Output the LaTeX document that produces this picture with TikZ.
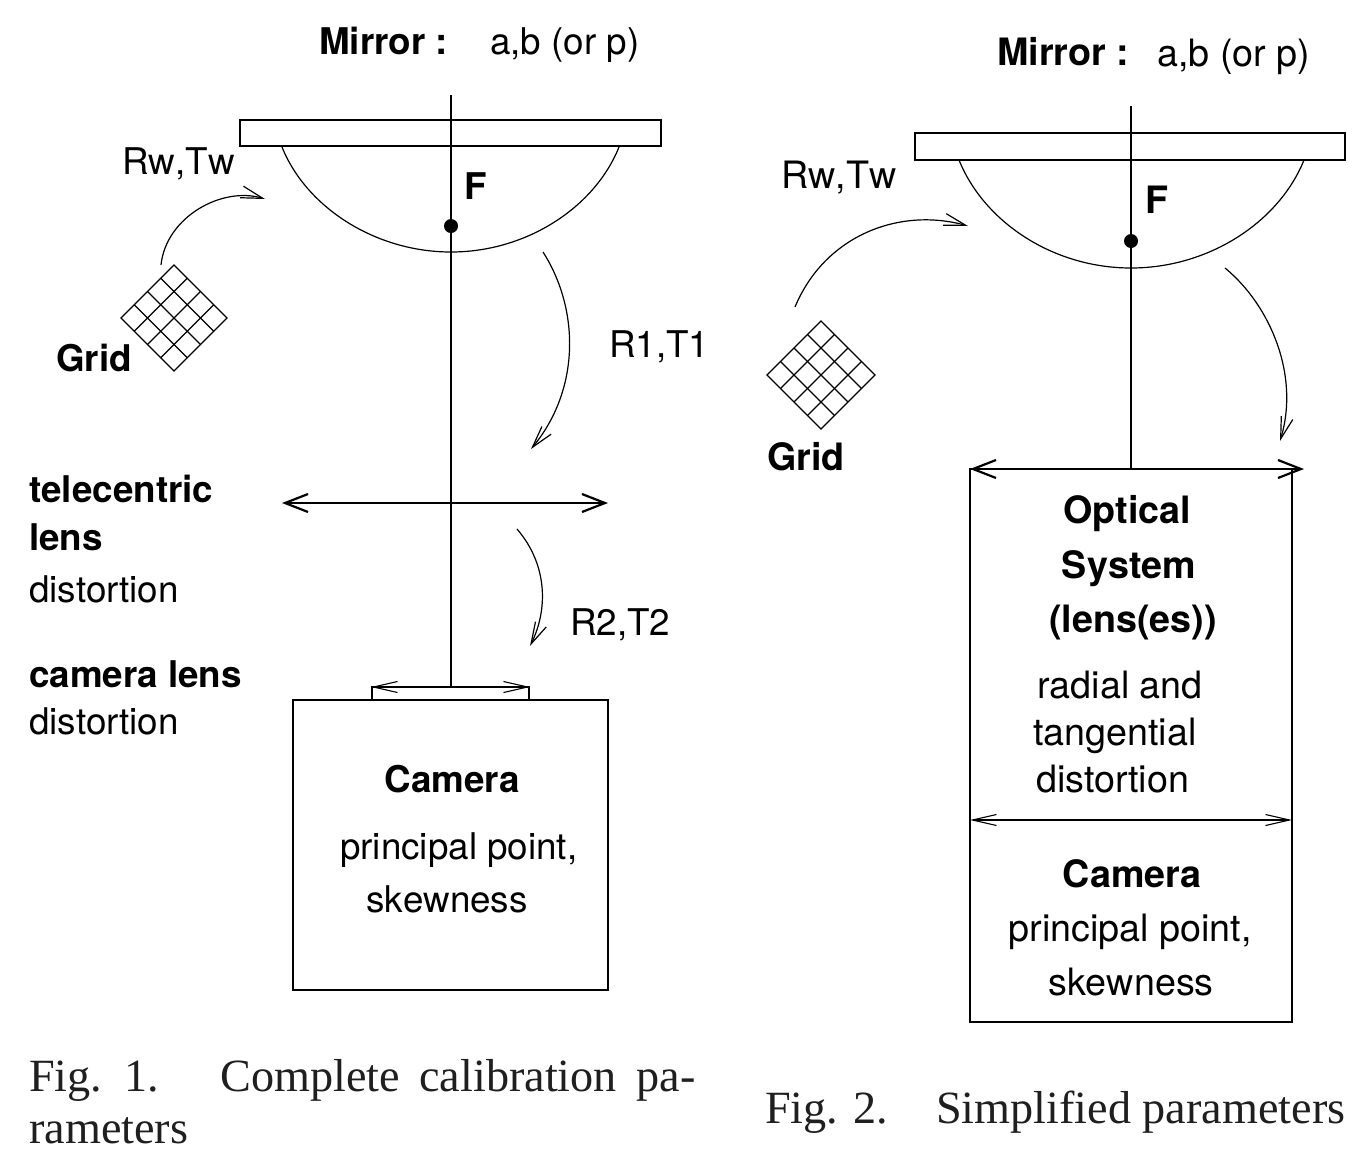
\documentclass[tikz,border=0pt]{standalone}
\usepackage{fontspec}
\setmainfont[Kerning=Off]{TeX Gyre Heros}
\newfontfamily\capfont{Liberation Serif}
\usetikzlibrary{arrows.meta,calc}
\definecolor{capcol}{gray}{0.12}
\tikzset{
  txt/.style={inner sep=0pt,anchor=base west,yshift=-0.7pt,font=\fontsize{36.8}{40}\selectfont},
  txtc/.style={inner sep=0pt,anchor=base,yshift=-0.7pt,font=\fontsize{36.8}{40}\selectfont},
  btxt/.style={txt,font=\fontsize{36.8}{40}\selectfont\bfseries},
  btxtc/.style={txtc,font=\fontsize{36.8}{40}\selectfont\bfseries},
  rtxt/.style={txt,font=\fontsize{37.7}{41}\selectfont},
  rtxtc/.style={txtc,font=\fontsize{37.7}{41}\selectfont},
  rbtxt/.style={txt,font=\fontsize{37.7}{41}\selectfont\bfseries},
  rbtxtc/.style={txtc,font=\fontsize{37.7}{41}\selectfont\bfseries},
  captxt/.style={inner sep=0pt,anchor=base west,text=capcol,yshift=-0.5pt,font=\fontsize{46.2}{50}\selectfont\capfont},
  ln/.style={line width=1.2pt,black},
  bigarr/.style={line width=1.6pt,{Straight Barb[length=23pt,width=18pt,line width=2.2pt]}-{Straight Barb[length=23pt,width=18pt,line width=2.2pt]}},
  thinarr/.style={line width=1.2pt,{Straight Barb[length=24pt,width=11pt,line width=1.1pt]}-{Straight Barb[length=24pt,width=11pt,line width=1.1pt]}},
  curvearr/.style={line width=1.2pt,-{Straight Barb[length=22pt,width=12pt,line width=1.2pt]}},
  dotf/.style={circle,fill=black,inner sep=0pt,minimum size=14pt}
}
\newcommand{\gridcells}[4]{%
  \draw[ln] (#1)--(#2)--(#3)--(#4)--cycle;
  \foreach \k in {0.25,0.5,0.75}{
    \draw[ln] ($(#1)!\k!(#2)$)--($(#4)!\k!(#3)$);
    \draw[ln] ($(#1)!\k!(#4)$)--($(#2)!\k!(#3)$);
  }}
\begin{document}
\begin{tikzpicture}[x=1pt,y=-1pt]
\fill[white] (0,0) rectangle (1364,1168);
\useasboundingbox (0,0) rectangle (1364,1168);
% ---- Figure 1
\coordinate (lTop) at (451,95);
\coordinate (lBot) at (451,687);
\coordinate (lBowlL) at (282,147);
\coordinate (lBowlM) at (451,252);
\coordinate (lBowlR) at (619,147);
\node[draw,ln,minimum width=421pt,minimum height=26pt,inner sep=0pt] (lMirror) at (450.5,133) {};
\draw[ln] (lBowlL) .. controls (306,207) and (375,252) .. (lBowlM) .. controls (527,252) and (595,207) .. (lBowlR);
\draw[ln] (lTop)--(lBot);
\node[dotf] (lF) at (451,226) {};
\coordinate (lgT) at (174,265); \coordinate (lgR) at (227,318);
\coordinate (lgB) at (174,371); \coordinate (lgL) at (121,318);
\gridcells{lgT}{lgR}{lgB}{lgL}
\coordinate (a1s) at (161,265); \coordinate (a1e) at (265,199);
\draw[curvearr] (a1s) .. controls (166,217) and (222,186) .. (a1e);
\coordinate (a2s) at (543,252); \coordinate (a2e) at (531,449);
\draw[curvearr] (a2s) .. controls (580,310) and (580,390) .. (a2e);
\coordinate (a3s) at (517,529); \coordinate (a3e) at (530,646);
\draw[curvearr] (a3s) .. controls (548,565) and (548,610) .. (a3e);
\coordinate (llL) at (282,503); \coordinate (llR) at (608,503);
\draw[bigarr] (llL)--(llR);
\node[draw,ln,minimum width=157pt,minimum height=13pt,inner sep=0pt] (lCamLens) at (450.5,693.5) {};
\coordinate (clL) at (371,687); \coordinate (clR) at (530,687);
\draw[thinarr] (clL)--(clR);
\node[draw,ln,minimum width=315pt,minimum height=290pt,inner sep=0pt] (lCam) at (450.5,845) {};
\node[btxt] (t1) at (319,54) {Mirror :};
\node[txt] (t2) at (490,54) {a,b (or p)};
\node[txt] (t3) at (122,174) {Rw,Tw};
\node[btxt] (t4) at (464,199) {F};
\node[btxt] (t5) at (56,371) {Grid};
\node[txt] (t6) at (609,357) {R1,T1};
\node[txt] (t7) at (570,635) {R2,T2};
\node[btxt] (t8) at (29,502) {telecentric};
\node[btxt] (t9) at (29,550) {lens};
\node[txt] (t10) at (29,602) {distortion};
\node[btxt] (t11) at (29,687) {camera lens};
\node[txt] (t12) at (29,734) {distortion};
\node[btxtc] (t13) at (452,792) {Camera};
\node[txt] (t14) at (340,859) {principal point,};
\node[txt] (t15) at (366,912) {skewness};
% ---- Figure 2
\coordinate (rTop) at (1131,106);
\coordinate (rBot) at (1131,469);
\coordinate (rBowlL) at (959,160);
\coordinate (rBowlM) at (1131,268);
\coordinate (rBowlR) at (1304,160);
\node[draw,ln,minimum width=430pt,minimum height=27pt,inner sep=0pt] (rMirror) at (1130,146.5) {};
\draw[ln] (rBowlL) .. controls (984,222) and (1053,268) .. (rBowlM) .. controls (1209,268) and (1279,222) .. (rBowlR);
\draw[ln] (rTop)--(rBot);
\node[dotf] (rF) at (1131,241) {};
\coordinate (rgT) at (821,321); \coordinate (rgR) at (875,375);
\coordinate (rgB) at (821,429); \coordinate (rgL) at (767,375);
\gridcells{rgT}{rgR}{rgB}{rgL}
\coordinate (b1s) at (795,307); \coordinate (b1e) at (968,226);
\draw[curvearr] (b1s) .. controls (825,235) and (900,207) .. (b1e);
\coordinate (b2s) at (1225,268); \coordinate (b2e) at (1280,441);
\draw[curvearr] (b2s) .. controls (1270,305) and (1300,375) .. (b2e);
\node[draw,ln,minimum width=322pt,minimum height=553pt,inner sep=0pt] (rBox) at (1131,745.5) {};
\coordinate (osL) at (970,469); \coordinate (osR) at (1304,469);
\draw[bigarr] (osL)--(osR);
\coordinate (dvL) at (970,820); \coordinate (dvR) at (1292,820);
\draw[thinarr] (dvL)--(dvR);
\node[rbtxt] (u1) at (997,65) {Mirror :};
\node[rtxt] (u2) at (1157,66) {a,b (or p)};
\node[rtxt] (u3) at (781,188) {Rw,Tw};
\node[rbtxt] (u4) at (1145,213) {F};
\node[rbtxt] (u5) at (767,470) {Grid};
\node[rbtxtc] (u6) at (1127,523) {Optical};
\node[rbtxtc] (u7) at (1129,578) {System};
\node[rbtxtc] (u8) at (1133,632) {(lens(es))};
\node[rtxt] (u9) at (1037,698) {radial and};
\node[rtxt] (u10) at (1033,745) {tangential};
\node[rtxt] (u11) at (1036,792) {distortion};
\node[rbtxtc] (u12) at (1132,887) {Camera};
\node[rtxtc] (u13) at (1130,941) {principal point,};
\node[rtxtc] (u14) at (1131,995) {skewness};
% ---- Captions
\node[captxt] (c1) at (29,1091) {Fig.\hspace{7pt} 1.};
\node[captxt] (c2) at (220,1091) {Complete\hspace{8pt} calibration\hspace{8pt} pa-};
\node[captxt] (c3) at (29,1143) {rameters};
\node[captxt] (c4) at (765,1123) {Fig. 2.};
\node[captxt] (c5) at (936,1123) {Simplified parameters};
\end{tikzpicture}
\end{document}
